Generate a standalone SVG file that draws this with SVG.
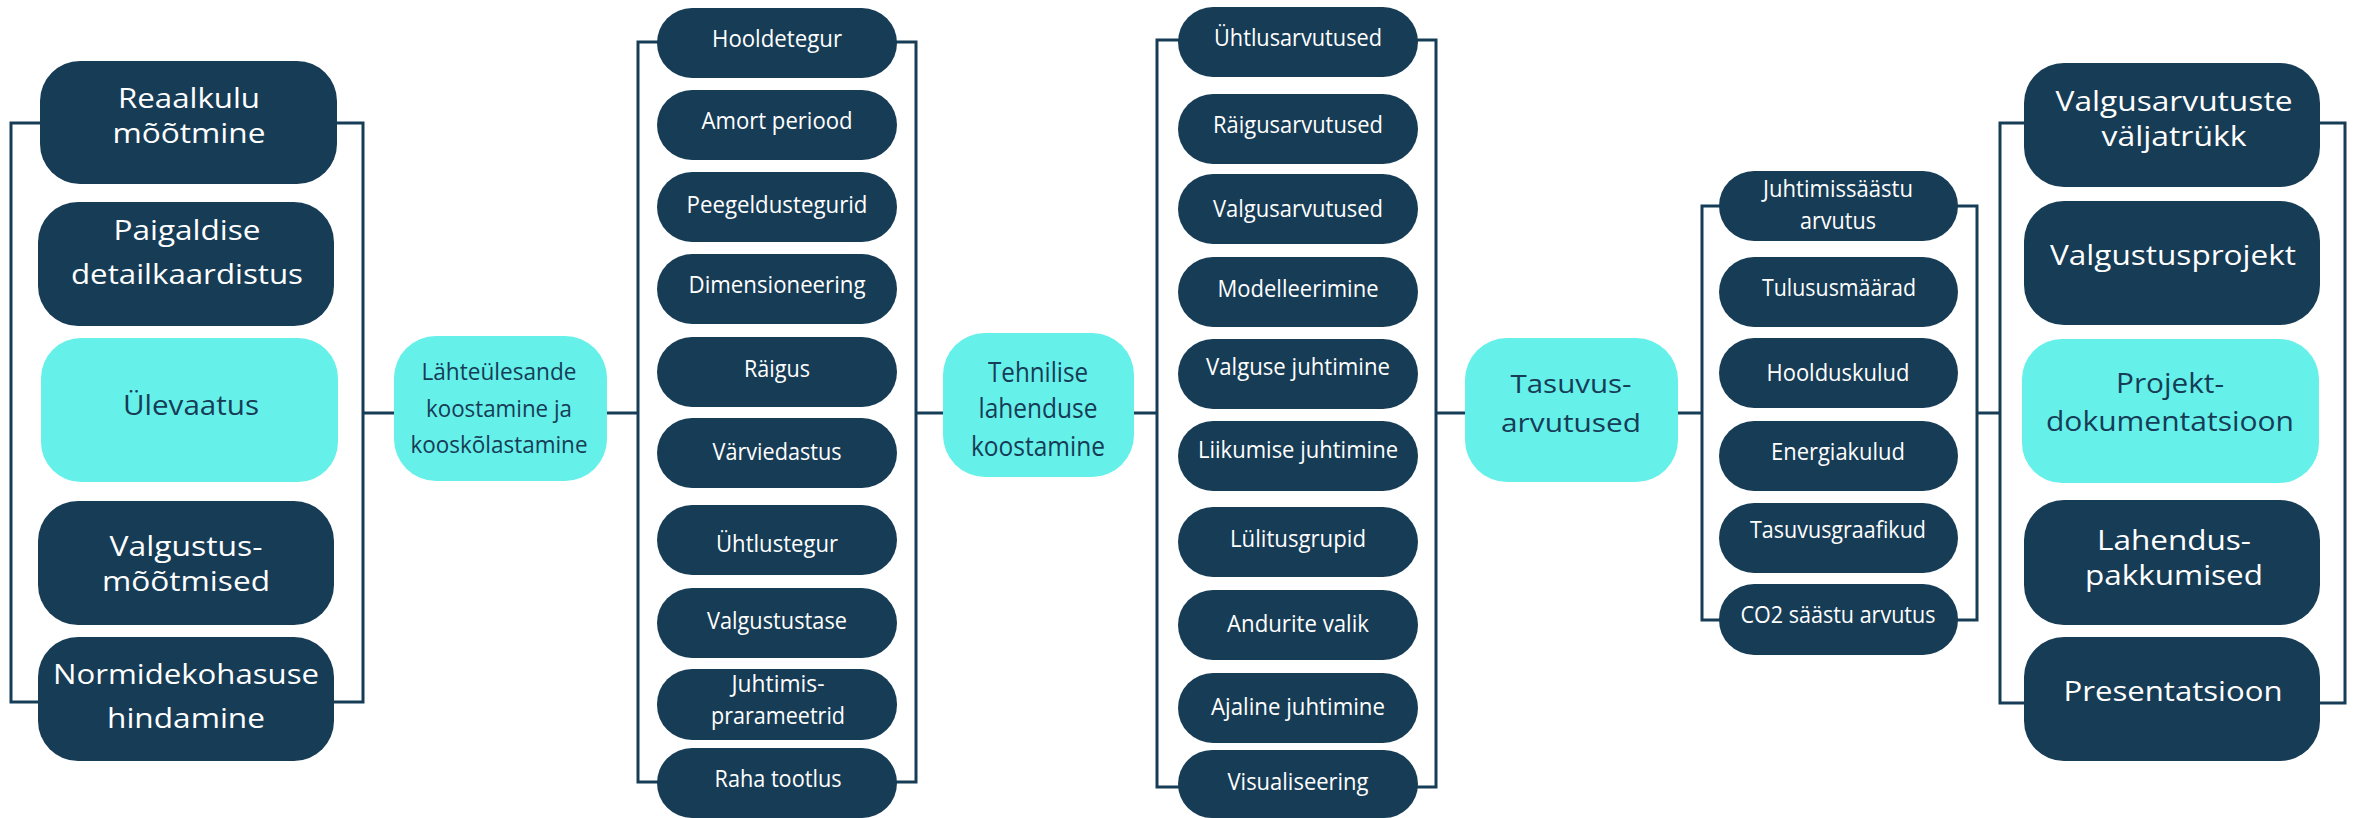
<svg xmlns="http://www.w3.org/2000/svg" width="2357" height="818" viewBox="0 0 2357 818">
<style>
.dk{fill:#173c56}
.cy{fill:#66f0ea}
.t{font-family:"Open Sans","Noto Sans","DejaVu Sans",sans-serif;text-anchor:middle}
.w{fill:#ffffff}
.n{fill:#163c56}
.big{font-size:28px}
.sm{font-size:24px}
.ln{fill:none;stroke:#163c56;stroke-width:3}
</style>
<rect width="2357" height="818" fill="#ffffff"/>
<g id="connectors">
<rect class="ln" x="11" y="123" width="352" height="579"/>
<rect class="ln" x="638" y="42" width="278" height="740"/>
<rect class="ln" x="1157" y="40" width="279" height="747"/>
<rect class="ln" x="1702" y="206" width="275" height="414"/>
<rect class="ln" x="2000" y="123" width="345" height="580"/>
<path class="ln" d="M363 413H394M607 413H638M916 413H943M1134 413H1157M1436 413H1465M1678 413H1702M1977 413H2000"/>
</g>
<!-- column 1 -->
<g id="n-reaalkulu"><rect class="dk" x="40" y="61" width="297" height="123" rx="40"/>
<text class="t w big" x="189" y="108" textLength="142" lengthAdjust="spacingAndGlyphs">Reaalkulu</text>
<text class="t w big" x="189" y="143" textLength="153" lengthAdjust="spacingAndGlyphs">mõõtmine</text></g>
<g id="n-paigaldise"><rect class="dk" x="38" y="202" width="296" height="124" rx="40"/>
<text class="t w big" x="187" y="240" textLength="147" lengthAdjust="spacingAndGlyphs">Paigaldise</text>
<text class="t w big" x="187" y="284" textLength="232" lengthAdjust="spacingAndGlyphs">detailkaardistus</text></g>
<g id="n-ulevaatus"><rect class="cy" x="41" y="338" width="297" height="144" rx="40"/>
<text class="t n big" x="191" y="415" textLength="136" lengthAdjust="spacingAndGlyphs">Ülevaatus</text></g>
<g id="n-valgustusmootmised"><rect class="dk" x="38" y="501" width="296" height="124" rx="40"/>
<text class="t w big" x="186" y="556" textLength="153" lengthAdjust="spacingAndGlyphs">Valgustus-</text>
<text class="t w big" x="186" y="591" textLength="168" lengthAdjust="spacingAndGlyphs">mõõtmised</text></g>
<g id="n-normidekohasuse"><rect class="dk" x="38" y="637" width="296" height="124" rx="40"/>
<text class="t w big" x="186" y="684" textLength="266" lengthAdjust="spacingAndGlyphs">Normidekohasuse</text>
<text class="t w big" x="186" y="728" textLength="158" lengthAdjust="spacingAndGlyphs">hindamine</text></g>
<!-- stage 1 -->
<g id="n-lahteulesande"><rect class="cy" x="394" y="336" width="213" height="145" rx="42"/>
<text class="t n sm" x="499" y="380" textLength="155" lengthAdjust="spacingAndGlyphs">Lähteülesande</text>
<text class="t n sm" x="499" y="417" textLength="146" lengthAdjust="spacingAndGlyphs">koostamine ja</text>
<text class="t n sm" x="499" y="453" textLength="177" lengthAdjust="spacingAndGlyphs">kooskõlastamine</text></g>
<!-- column 2 -->
<g id="n-hooldetegur"><rect class="dk" x="657" y="8" width="240" height="70" rx="35"/>
<text class="t w sm" x="777" y="47" textLength="130" lengthAdjust="spacingAndGlyphs">Hooldetegur</text></g>
<g id="n-amort"><rect class="dk" x="657" y="90" width="240" height="70" rx="35"/>
<text class="t w sm" x="777" y="129" textLength="151" lengthAdjust="spacingAndGlyphs">Amort periood</text></g>
<g id="n-peegeldustegurid"><rect class="dk" x="657" y="172" width="240" height="70" rx="35"/>
<text class="t w sm" x="777" y="213" textLength="181" lengthAdjust="spacingAndGlyphs">Peegeldustegurid</text></g>
<g id="n-dimensioneering"><rect class="dk" x="657" y="254" width="240" height="70" rx="35"/>
<text class="t w sm" x="777" y="293" textLength="177" lengthAdjust="spacingAndGlyphs">Dimensioneering</text></g>
<g id="n-raigus"><rect class="dk" x="657" y="337" width="240" height="70" rx="35"/>
<text class="t w sm" x="777" y="377" textLength="66" lengthAdjust="spacingAndGlyphs">Räigus</text></g>
<g id="n-varviedastus"><rect class="dk" x="657" y="418" width="240" height="70" rx="35"/>
<text class="t w sm" x="777" y="460" textLength="129" lengthAdjust="spacingAndGlyphs">Värviedastus</text></g>
<g id="n-uhtlustegur"><rect class="dk" x="657" y="505" width="240" height="70" rx="35"/>
<text class="t w sm" x="777" y="552" textLength="122" lengthAdjust="spacingAndGlyphs">Ühtlustegur</text></g>
<g id="n-valgustustase"><rect class="dk" x="657" y="588" width="240" height="70" rx="35"/>
<text class="t w sm" x="777" y="629" textLength="140" lengthAdjust="spacingAndGlyphs">Valgustustase</text></g>
<g id="n-juhtimisparameetrid"><rect class="dk" x="657" y="669" width="240" height="71" rx="35"/>
<text class="t w sm" x="778" y="692" textLength="93" lengthAdjust="spacingAndGlyphs">Juhtimis-</text>
<text class="t w sm" x="778" y="724" textLength="134" lengthAdjust="spacingAndGlyphs">prarameetrid</text></g>
<g id="n-rahatootlus"><rect class="dk" x="657" y="748" width="240" height="70" rx="35"/>
<text class="t w sm" x="778" y="787" textLength="127" lengthAdjust="spacingAndGlyphs">Raha tootlus</text></g>
<!-- stage 2 -->
<g id="n-tehnilise"><rect class="cy" x="943" y="333" width="191" height="144" rx="42"/>
<text class="t n" style="font-size:27px" x="1038" y="382" textLength="100" lengthAdjust="spacingAndGlyphs">Tehnilise</text>
<text class="t n" style="font-size:27px" x="1038" y="418" textLength="119" lengthAdjust="spacingAndGlyphs">lahenduse</text>
<text class="t n" style="font-size:27px" x="1038" y="456" textLength="134" lengthAdjust="spacingAndGlyphs">koostamine</text></g>
<!-- column 3 -->
<g id="n-uhtlusarvutused"><rect class="dk" x="1178" y="7" width="240" height="70" rx="35"/>
<text class="t w sm" x="1298" y="46" textLength="168" lengthAdjust="spacingAndGlyphs">Ühtlusarvutused</text></g>
<g id="n-raigusarvutused"><rect class="dk" x="1178" y="94" width="240" height="70" rx="35"/>
<text class="t w sm" x="1298" y="133" textLength="170" lengthAdjust="spacingAndGlyphs">Räigusarvutused</text></g>
<g id="n-valgusarvutused"><rect class="dk" x="1178" y="174" width="240" height="70" rx="35"/>
<text class="t w sm" x="1298" y="217" textLength="170" lengthAdjust="spacingAndGlyphs">Valgusarvutused</text></g>
<g id="n-modelleerimine"><rect class="dk" x="1178" y="257" width="240" height="70" rx="35"/>
<text class="t w sm" x="1298" y="297" textLength="161" lengthAdjust="spacingAndGlyphs">Modelleerimine</text></g>
<g id="n-valgusejuhtimine"><rect class="dk" x="1178" y="339" width="240" height="70" rx="35"/>
<text class="t w sm" x="1298" y="375" textLength="184" lengthAdjust="spacingAndGlyphs">Valguse juhtimine</text></g>
<g id="n-liikumisejuhtimine"><rect class="dk" x="1178" y="421" width="240" height="70" rx="35"/>
<text class="t w sm" x="1298" y="458" textLength="200" lengthAdjust="spacingAndGlyphs">Liikumise juhtimine</text></g>
<g id="n-lulitusgrupid"><rect class="dk" x="1178" y="507" width="240" height="70" rx="35"/>
<text class="t w sm" x="1298" y="547" textLength="136" lengthAdjust="spacingAndGlyphs">Lülitusgrupid</text></g>
<g id="n-anduritevalik"><rect class="dk" x="1178" y="590" width="240" height="70" rx="35"/>
<text class="t w sm" x="1298" y="632" textLength="142" lengthAdjust="spacingAndGlyphs">Andurite valik</text></g>
<g id="n-ajalinejuhtimine"><rect class="dk" x="1178" y="673" width="240" height="70" rx="35"/>
<text class="t w sm" x="1298" y="715" textLength="174" lengthAdjust="spacingAndGlyphs">Ajaline juhtimine</text></g>
<g id="n-visualiseering"><rect class="dk" x="1178" y="750" width="240" height="68" rx="34"/>
<text class="t w sm" x="1298" y="790" textLength="141" lengthAdjust="spacingAndGlyphs">Visualiseering</text></g>
<!-- stage 3 -->
<g id="n-tasuvus"><rect class="cy" x="1465" y="338" width="213" height="144" rx="42"/>
<text class="t n" style="font-size:26px" x="1571" y="393" textLength="121" lengthAdjust="spacingAndGlyphs">Tasuvus-</text>
<text class="t n" style="font-size:26px" x="1571" y="432" textLength="140" lengthAdjust="spacingAndGlyphs">arvutused</text></g>
<!-- column 4 -->
<g id="n-juhtimissaastu"><rect class="dk" x="1719" y="171" width="239" height="70" rx="35"/>
<text class="t w sm" x="1838" y="197" textLength="150" lengthAdjust="spacingAndGlyphs">Juhtimissäästu</text>
<text class="t w sm" x="1838" y="229" textLength="76" lengthAdjust="spacingAndGlyphs">arvutus</text></g>
<g id="n-tulususmaarad"><rect class="dk" x="1719" y="257" width="239" height="70" rx="35"/>
<text class="t w sm" x="1839" y="296" textLength="154" lengthAdjust="spacingAndGlyphs">Tulususmäärad</text></g>
<g id="n-hoolduskulud"><rect class="dk" x="1719" y="338" width="239" height="70" rx="35"/>
<text class="t w sm" x="1838" y="381" textLength="143" lengthAdjust="spacingAndGlyphs">Hoolduskulud</text></g>
<g id="n-energiakulud"><rect class="dk" x="1719" y="421" width="239" height="70" rx="35"/>
<text class="t w sm" x="1838" y="460" textLength="134" lengthAdjust="spacingAndGlyphs">Energiakulud</text></g>
<g id="n-tasuvusgraafikud"><rect class="dk" x="1719" y="503" width="239" height="70" rx="35"/>
<text class="t w sm" x="1838" y="538" textLength="176" lengthAdjust="spacingAndGlyphs">Tasuvusgraafikud</text></g>
<g id="n-co2"><rect class="dk" x="1719" y="584" width="239" height="71" rx="35"/>
<text class="t w sm" x="1838" y="623" textLength="195" lengthAdjust="spacingAndGlyphs">CO2 säästu arvutus</text></g>
<!-- column 5 -->
<g id="n-valgusarvutuste"><rect class="dk" x="2024" y="63" width="296" height="124" rx="40"/>
<text class="t w big" x="2174" y="111" textLength="237" lengthAdjust="spacingAndGlyphs">Valgusarvutuste</text>
<text class="t w big" x="2174" y="146" textLength="145" lengthAdjust="spacingAndGlyphs">väljatrükk</text></g>
<g id="n-valgustusprojekt"><rect class="dk" x="2024" y="201" width="296" height="124" rx="40"/>
<text class="t w big" x="2173" y="265" textLength="246" lengthAdjust="spacingAndGlyphs">Valgustusprojekt</text></g>
<g id="n-projektdokumentatsioon"><rect class="cy" x="2022" y="339" width="297" height="144" rx="40"/>
<text class="t n big" x="2170" y="393" textLength="108" lengthAdjust="spacingAndGlyphs">Projekt-</text>
<text class="t n big" x="2170" y="431" textLength="248" lengthAdjust="spacingAndGlyphs">dokumentatsioon</text></g>
<g id="n-lahenduspakkumised"><rect class="dk" x="2024" y="500" width="296" height="125" rx="40"/>
<text class="t w big" x="2174" y="550" textLength="154" lengthAdjust="spacingAndGlyphs">Lahendus-</text>
<text class="t w big" x="2174" y="585" textLength="178" lengthAdjust="spacingAndGlyphs">pakkumised</text></g>
<g id="n-presentatsioon"><rect class="dk" x="2024" y="637" width="296" height="124" rx="40"/>
<text class="t w big" x="2173" y="701" textLength="219" lengthAdjust="spacingAndGlyphs">Presentatsioon</text></g>
</svg>
